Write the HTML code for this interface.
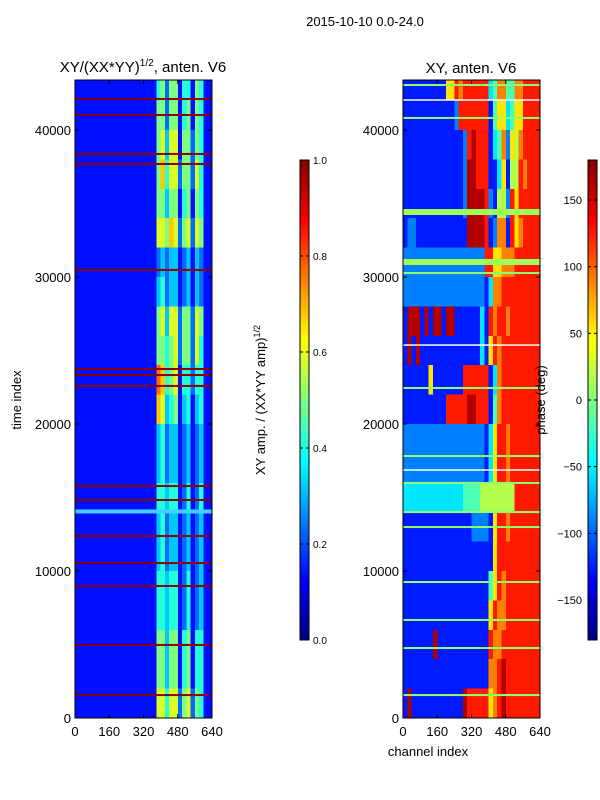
<!DOCTYPE html>
<html><head><meta charset="utf-8"><style>
body{margin:0;background:#fff;}
svg{display:block;font-family:"Liberation Sans",sans-serif;}
</style></head><body>
<svg id="fig" width="600" height="800" xmlns="http://www.w3.org/2000/svg">
<text x="365" y="26" font-size="13" text-anchor="middle">2015-10-10 0.0-24.0</text>
<text x="143" y="72" font-size="15" text-anchor="middle">XY/(XX*YY)<tspan font-size="10" dy="-6">1/2</tspan><tspan dy="6">, anten. V6</tspan></text>
<text x="471" y="73" font-size="15" text-anchor="middle">XY, anten. V6</text>
<text transform="translate(21,400) rotate(-90)" font-size="13" text-anchor="middle">time index</text>
<text x="428" y="756" font-size="13" text-anchor="middle">channel index</text>
<text transform="translate(265,400) rotate(-90)" font-size="13" text-anchor="middle">XY amp. / (XX*YY amp)<tspan font-size="9" dy="-5">1/2</tspan></text>
<g id="left"></g>
<g id="right"></g>
<text transform="translate(545,400) rotate(-90)" font-size="13" text-anchor="middle">phase (deg)</text>
<g id="cb1"></g>
<g id="cb2"></g>
</svg>
<script>
// ---- data ----
const timeBinSize = 2000;
const chanBinSize = 20;
// amplitude grid rows (top row = 42000-44000), digits 0-9
const ampRows = [
"1111111111111111111 4525514415411",
"1111111111111111111 5525514515411",
"1111111111111111111 5636615525411",
"1111111111111111111 5746625526411",
"1111111111111111111 5535514515411",
"1111111111111111111 6657625626511",
"1111111111111111111 2323312313211",
"1111111111111111111 3423312313211",
"1111111111111111111 5636625526511",
"1111111111111111111 5545625526411",
"1111111111111111111 8745614424411",
"1111111111111111111 7634513413411",
"1111111111111111111 3423312312311",
"1111111111111111111 3423312312311",
"1111111111111111111 4434412412411",
"1111111111111111111 3423312312311",
"1111111111111111111 3423312312311",
"1111111111111111111 4434412412311",
"1111111111111111111 4434412412311",
"1111111111111111111 5535514514411",
"1111111111111111111 5535514514411",
"1111111111111111111 6646625625411"];
const ampRedLines = [42110,41020,38370,37690,30480,23740,23330,22590,15780,14830,12380,10540,8980,4970,1560];
const ampCyanLines = [14050];
// phase grid rows, digits 0-9
const phaseRows = [
"11111111 11668788 88883477 44778888",
"11111111 11112888 88881466 34668888",
"11111111 11111128 98881347 26578888",
"11111111 11111129 98881136 15587888",
"11111111 11111129 99982155 28688888",
"12211111 11111119 99981277 18678888",
"22222222 22222222 22288667 77888888",
"22222222 22222222 22213778 88888888",
"19991919 91991111 11318788 78888888",
"19191111 11111111 11316878 88888888",
"11111161 11111188 88881378 88888888",
"11111111 11888889 98881478 88888888",
"22222222 22222222 22213688 78888888",
"22222222 22222222 22213688 78888888",
"33333333 33333344 44555555 55888888",
"11111111 11111111 22221688 78888888",
"11111111 11111111 11111688 88888888",
"11111111 11111111 11114687 88888888",
"11111111 11111111 11116877 88888888",
"11111119 11111111 11118778 88888888",
"11111111 11111111 11117789 88888888",
"19111111 11111198 88886789 88888888"];
const phaseGreenLines = [43060,40820,30270,22450,17820,15990,14010,12990,9250,6670,4760,1560];
const phaseWhiteLines = [42040,25370,16870];
const phaseNoisyBands = [34420,31020];
const yTicks = [0,10000,20000,30000,40000];
const xTicks = [0,160,320,480,640];
const ampCbTicks = [0,0.2,0.4,0.6,0.8,1.0];
const phaseCbTicks = [-150,-100,-50,0,50,100,150];

// ---- scales ----
const NS="http://www.w3.org/2000/svg";
const T0=718, TPX=0.0147, TMAX=(T0-80)/TPX;
function ty(t){return T0-t*TPX;}
function ampDigit(d){return 0.05+0.09*d;}
function phaseDigit(d){return 0.05+0.1*d;}
function jet(v){v=Math.max(0,Math.min(1,v));
 const c=a=>Math.round(255*Math.max(0,Math.min(1,1.5-Math.abs(4*v-a))));
 return `rgb(${c(3)},${c(2)},${c(1)})`;}
function el(tag,attrs,parent){const e=document.createElementNS(NS,tag);for(const k in attrs)e.setAttribute(k,attrs[k]);parent.appendChild(e);return e;}

function panel(gid,x0,x1,rows,toUnit,lines){
 const g=document.getElementById(gid);
 const sx=c=>x0+(c/640)*(x1-x0);
 rows.forEach((rs,ri)=>{
  const s=rs.replace(/ /g,'');
  const r=rows.length-1-ri;
  const t0=r*timeBinSize,t1=Math.min((r+1)*timeBinSize,TMAX);
  for(let ci=0;ci<s.length;ci++){
   const rect=el('rect',{x:sx(ci*chanBinSize),y:ty(t1),width:sx((ci+1)*chanBinSize)-sx(ci*chanBinSize)+0.3,height:ty(t0)-ty(t1)+0.3,fill:jet(toUnit(+s[ci])),'shape-rendering':'crispEdges'},g);
   
   
  }
 });
 lines.forEach(L=>{L.times.forEach(t=>{
  const ln=el('rect',{x:x0,y:ty(t)-L.w/2,width:x1-x0,height:L.w,fill:L.color},g);
  
  
 });});
 const fr=el('rect',{x:x0,y:80,width:x1-x0,height:T0-80,fill:'none',stroke:'#000','stroke-width':1},g);
 
 
 yTicks.forEach(t=>{
  el('line',{x1:x0,x2:x0+4,y1:ty(t),y2:ty(t),stroke:'#000'},g);
  el('line',{x1:x1,x2:x1-4,y1:ty(t),y2:ty(t),stroke:'#000'},g);
  const tx=el('text',{x:x0-4,y:ty(t)+5,'font-size':13,'text-anchor':'end'},g);tx.textContent=t;
  
  
 });
 xTicks.forEach(c=>{
  el('line',{x1:sx(c),x2:sx(c),y1:T0,y2:T0-4,stroke:'#000'},g);
  el('line',{x1:sx(c),x2:sx(c),y1:80,y2:84,stroke:'#000'},g);
  const tx=el('text',{x:sx(c),y:T0+18,'font-size':13,'text-anchor':'middle'},g);tx.textContent=c;
  
  
 });
}
panel('left',75,212,ampRows,ampDigit,[
 {times:ampCyanLines,w:4,color:'#40d0ff',name:'bright-line'},
 {times:ampRedLines,w:2,color:'#8b0000',name:'flag-line'}]);
panel('right',403,540,phaseRows,phaseDigit,[
 {times:phaseNoisyBands,w:6,color:'#9fff5a',name:'noisy-band'},
 {times:phaseGreenLines,w:2,color:'#90ff70',name:'flag-line'},
 {times:phaseWhiteLines,w:1.5,color:'#ffffff',name:'gap-line'}]);

function colorbar(gid,x,ticks,vmin,vmax,fs,labelLeft){
 const g=document.getElementById(gid);
 const y0=160,y1=640;
 for(let i=0;i<96;i++){
  el('rect',{x:x,y:y1-(i+1)*5,width:9,height:5.3,fill:jet((i+0.5)/96),'shape-rendering':'crispEdges'},g);
 }
 el('rect',{x:x,y:y0,width:9,height:y1-y0,fill:'none',stroke:'#000'},g);
 ticks.forEach(v=>{
  const y=y1-(v-vmin)/(vmax-vmin)*(y1-y0);
  el('line',{x1:x+9,x2:x+6,y1:y,y2:y,stroke:'#000'},g);
  el('line',{x1:x,x2:x+3,y1:y,y2:y,stroke:'#000'},g);
  const tx=el('text',labelLeft?{x:x-6,y:y+4,'font-size':fs,'text-anchor':'end'}:{x:x+13,y:y+4,'font-size':fs},g);
  tx.textContent=(vmax===1?v.toFixed(1):String(v).replace('-','\u2212'));
  
  
 });
}
colorbar('cb1',300,ampCbTicks,0,1,10,false);
colorbar('cb2',588,phaseCbTicks,-180,180,11,true);
</script>
</body></html>
